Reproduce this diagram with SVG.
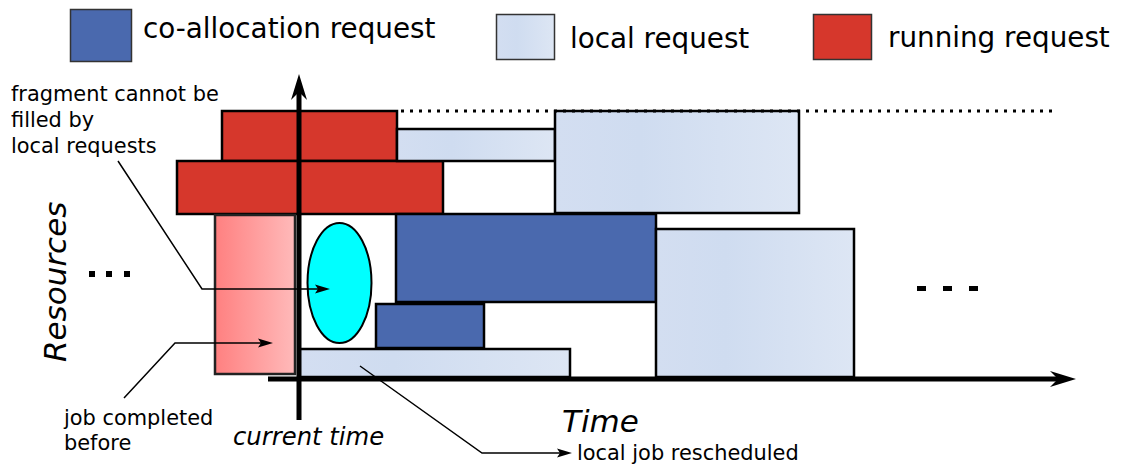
<svg xmlns="http://www.w3.org/2000/svg" width="1121" height="469" viewBox="0 0 1121 469">
  <defs>
    <linearGradient id="gLocal" x1="0" y1="0" x2="1" y2="0">
      <stop offset="0" stop-color="#d3def1"/>
      <stop offset="0.35" stop-color="#cfdcf0"/>
      <stop offset="1" stop-color="#dde6f4"/>
    </linearGradient>
    <linearGradient id="gDone" x1="0" y1="0" x2="1" y2="0">
      <stop offset="0" stop-color="#ff8080"/>
      <stop offset="1" stop-color="#ffbaba"/>
    </linearGradient>
    <marker id="axisHead" viewBox="-9 -9 28 18" refX="0" refY="0" markerWidth="28" markerHeight="18" markerUnits="userSpaceOnUse" orient="auto">
      <path d="M18,0 L-8,-8 L0,0 L-8,8 Z" fill="#000"/>
    </marker>
    <marker id="smallHead" viewBox="-4 -5 17 10" refX="0" refY="0" markerWidth="17" markerHeight="10" markerUnits="userSpaceOnUse" orient="auto">
      <path d="M12,0 L-3,-4.5 L0,0 L-3,4.5 Z" fill="#000"/>
    </marker>
    <style>
      .run { fill: #d6372c; stroke: #000; stroke-width: 2.5; }
      .coal { fill: #4a69ae; stroke: #000; stroke-width: 2.5; }
      .loc { fill: url(#gLocal); stroke: #000; stroke-width: 2.5; }
      .done { fill: url(#gDone); stroke: #222; stroke-width: 2.5; }
      .key { stroke: #333; stroke-width: 1.5; }
      .lbl { font-family: "DejaVu Sans", sans-serif; fill: #000; }
      .legend { font-size: 27.8px; }
      .note { font-size: 20.9px; }
      .axis-title { font-size: 31px; font-style: italic; }
      .axis { stroke: #000; stroke-width: 5; fill: none; }
      .conn { stroke: #000; stroke-width: 1.5; fill: none; }
      .dot { fill: #000; }
    </style>
  </defs>

  <!-- legend -->
  <g id="legend-coallocation">
    <rect class="key" x="70.5" y="9.5" width="61" height="52" fill="#4a69ae"/>
    <text class="lbl legend" x="143" y="38">co-allocation request</text>
  </g>
  <g id="legend-local">
    <rect class="key" x="496.5" y="14.5" width="58" height="45" fill="url(#gLocal)"/>
    <text class="lbl legend" x="570" y="48">local request</text>
  </g>
  <g id="legend-running">
    <rect class="key" x="813.5" y="14.5" width="58" height="45" fill="#d6372c"/>
    <text class="lbl legend" x="888" y="47">running request</text>
  </g>

  <!-- schedule blocks -->
  <g id="running-top"><rect class="run" x="222" y="111" width="175" height="50"/></g>
  <g id="running-wide"><rect class="run" x="177" y="161" width="266" height="53"/></g>
  <g id="local-thin-top"><rect class="loc" x="397" y="129" width="158" height="32"/></g>
  <g id="local-large-top"><rect class="loc" x="555" y="111" width="244" height="102"/></g>
  <g id="job-completed"><rect class="done" x="215" y="215" width="80" height="159"/></g>
  <g id="coalloc-large"><rect class="coal" x="396" y="214" width="260" height="88"/></g>
  <g id="coalloc-small"><rect class="coal" x="376" y="304" width="108" height="44"/></g>
  <g id="local-rescheduled"><rect class="loc" x="299" y="349" width="271" height="28"/></g>
  <g id="local-right"><rect class="loc" x="656" y="229" width="198" height="148"/></g>
  <g id="fragment"><ellipse cx="339.5" cy="283" rx="32" ry="60" fill="#00ffff" stroke="#000" stroke-width="2"/></g>

  <!-- horizon and continuation marks -->
  <g id="horizon">
    <line x1="401" y1="111" x2="1053" y2="111" stroke="#000" stroke-width="3" stroke-dasharray="3 6"/>
  </g>
  <g id="more-left">
    <rect class="dot" x="89" y="271" width="6" height="6"/>
    <rect class="dot" x="106" y="271" width="6" height="6"/>
    <rect class="dot" x="124" y="271" width="6" height="6"/>
  </g>
  <g id="more-right">
    <rect class="dot" x="917" y="286" width="9" height="5"/>
    <rect class="dot" x="943" y="286" width="9" height="5"/>
    <rect class="dot" x="969" y="286" width="9" height="5"/>
  </g>

  <!-- axes -->
  <g id="axes">
    <line class="axis" x1="299" y1="420" x2="299" y2="92" marker-end="url(#axisHead)"/>
    <line class="axis" x1="268" y1="379" x2="1058" y2="379" marker-end="url(#axisHead)"/>
    <text class="lbl axis-title" transform="translate(66,362) rotate(-90)">Resources</text>
    <text class="lbl axis-title" x="562" y="432">Time</text>
    <text class="lbl" x="233" y="445" font-size="24.3" font-style="italic">current time</text>
  </g>

  <!-- annotation connectors -->
  <g id="connectors">
    <polyline class="conn" points="118,161 202,289 318,289" marker-end="url(#smallHead)"/>
    <polyline class="conn" points="124,398 175,343 261,343" marker-end="url(#smallHead)"/>
    <polyline class="conn" points="360,366 482,453 560,453" marker-end="url(#smallHead)"/>
  </g>

  <!-- annotations -->
  <g id="note-fragment">
    <text class="lbl note" x="11" y="101">fragment cannot be</text>
    <text class="lbl note" x="11" y="127">filled by</text>
    <text class="lbl note" x="11" y="153">local requests</text>
  </g>
  <g id="note-completed">
    <text class="lbl note" x="64" y="425">job completed</text>
    <text class="lbl note" x="64" y="450">before</text>
  </g>
  <g id="note-rescheduled">
    <text class="lbl note" x="577" y="460">local job rescheduled</text>
  </g>
</svg>
